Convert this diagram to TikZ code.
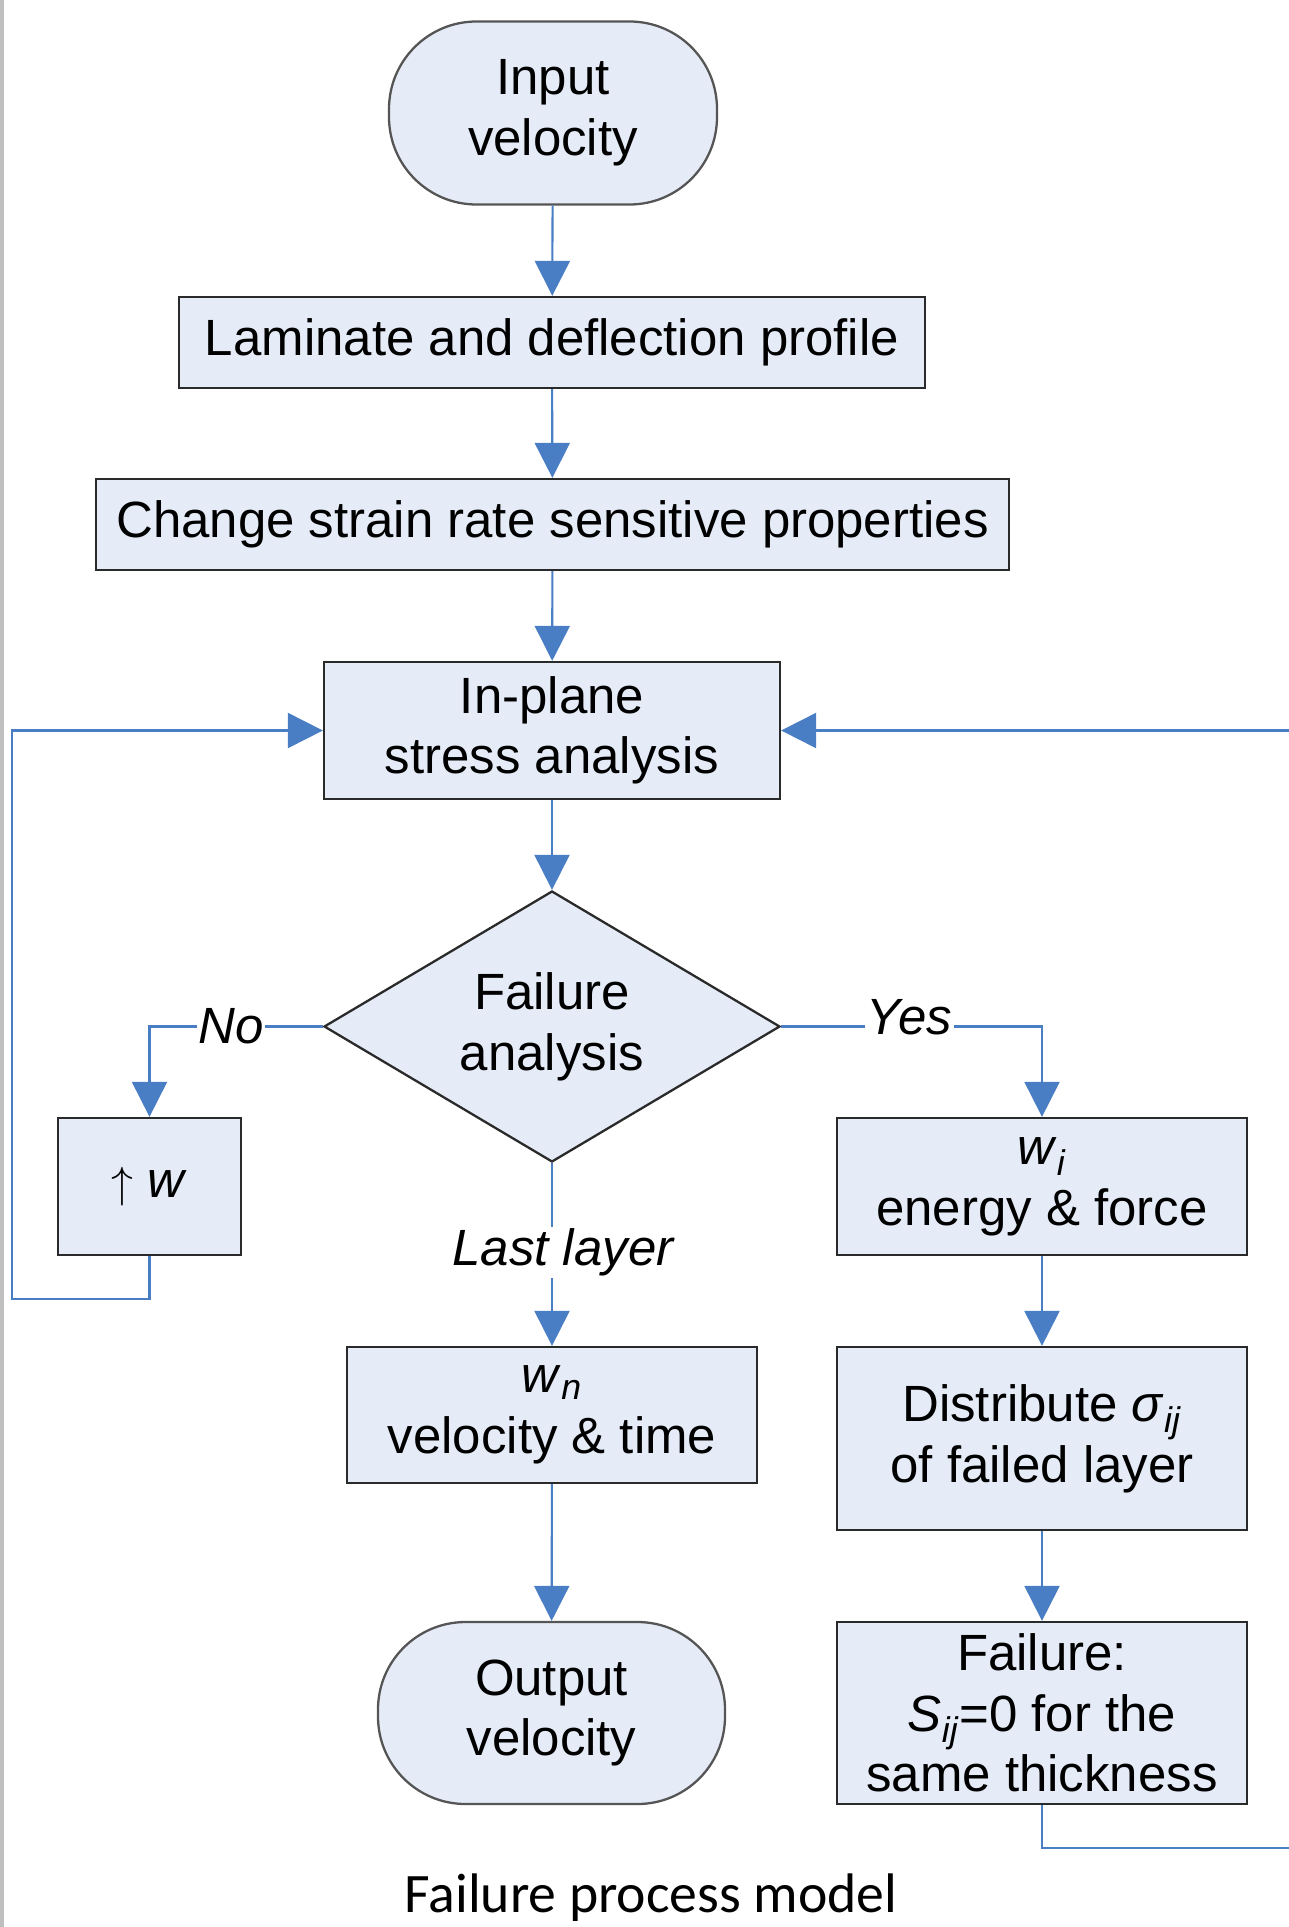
\documentclass[tikz,border=0pt]{standalone}
\usepackage{fontspec}
\setmainfont{Liberation Sans}
\newfontfamily\capfont{Carlito}
\usetikzlibrary{arrows.meta,positioning,shapes.geometric}
\definecolor{kek}{HTML}{4A7EC4}
\definecolor{hatter}{HTML}{E5ECF7}
\definecolor{keret}{HTML}{2A2A2A}
\newcommand{\bet}{\fontsize{29}{34.5}\selectfont}
\tikzset{
  proc/.style={draw=keret,fill=hatter,line width=1.3pt,align=center,inner sep=0pt},
  term/.style={proc,draw=keret!80,rounded corners=1.75cm},
  dont/.style={proc,diamond,aspect=1.68,minimum width=9.12cm,minimum height=5.42cm},
  conn/.style={draw=kek,line width=1.2pt},
  arr/.style={conn,-{Triangle[length=0.7cm,width=0.7cm]}},
  lab/.style={fill=white,inner sep=1pt,font=\bet\itshape},
}

\begin{document}
\begin{tikzpicture}[font=\bet]
  \useasboundingbox (0,0) rectangle (25.78,-38.54);
  \fill[gray!50] (0,0) rectangle (0.09,-38.54);
  % main column
  \node[term,minimum width=6.56cm,minimum height=3.66cm] (be) at (11.06,-2.26) {Input\\velocity};
  \node[proc,minimum width=14.92cm,minimum height=1.82cm] (lam) at (11.04,-6.85) {Laminate and deflection profile};
  \node[proc,minimum width=18.26cm,minimum height=1.82cm] (chg) at (11.05,-10.49) {Change strain rate sensitive properties};
  \node[proc,minimum width=9.12cm,minimum height=2.74cm] (inpl) at (11.04,-14.61) {In-plane\\stress analysis};
  \node[dont] (fa) at (11.04,-20.53) {Failure\\analysis};
  \node[proc,minimum width=3.66cm,minimum height=2.74cm] (up) at (2.99,-23.73) {$\uparrow$ \textit{w}};
  \node[proc,minimum width=8.2cm,minimum height=2.74cm] (wi) at (20.84,-23.73) {\textit{w}\textsubscript{\textit{i}}\\energy \& force};
  \node[proc,minimum width=8.2cm,minimum height=2.72cm] (wn) at (11.04,-28.30) {\textit{w}\textsubscript{\textit{n}}\\velocity \& time};
  \node[proc,minimum width=8.2cm,minimum height=3.66cm] (dist) at (20.84,-28.77) {Distribute \textit{σ}\textsubscript{\textit{ij}}\\of failed layer};
  \node[proc,minimum width=8.2cm,minimum height=3.64cm] (fl) at (20.84,-34.26) {Failure:\\\textit{S}\textsubscript{\textit{ij}}=0 for the\\same thickness};
  \node[term,minimum width=6.94cm,minimum height=3.64cm] (ki) at (11.03,-34.26) {Output\\velocity};
  \node[font=\capfont\fontsize{31.7}{36}\selectfont] (cim) at (13.02,-37.96) {Failure process model};
  % connectors
  \draw[arr] (be) -- (lam);
  \draw[arr] (lam) -- (chg);
  \draw[arr] (chg) -- (inpl);
  \draw[arr] (inpl) -- (fa);
  \draw[arr] (fa.west) -| node[lab,pos=0.265] (no) {No} (up.north);
  \draw[arr] (fa.east) -| node[lab,pos=0.246,yshift=0.18cm] (yes) {Yes} (wi.north);
  \draw[arr] (fa.south) -- node[lab,pos=0.49,xshift=0.22cm] (last) {Last layer} (wn.north);
  \draw[arr] (wi) -- (dist);
  \draw[arr] (dist) -- (fl);
  \draw[arr] (wn) -- (ki);
  % loops back to the stress analysis
  \coordinate (bal1) at (0.24,-25.98);
  \draw[arr] (up.south) |- (bal1) |- (inpl.west);
  \coordinate (jobb1) at (25.78,-36.96);
  \coordinate (jobb2) at (25.78,-14.61);
  \draw[conn] (fl.south) |- (jobb1);
  \draw[arr] (jobb2) -- (inpl.east);
\end{tikzpicture}
\end{document}
